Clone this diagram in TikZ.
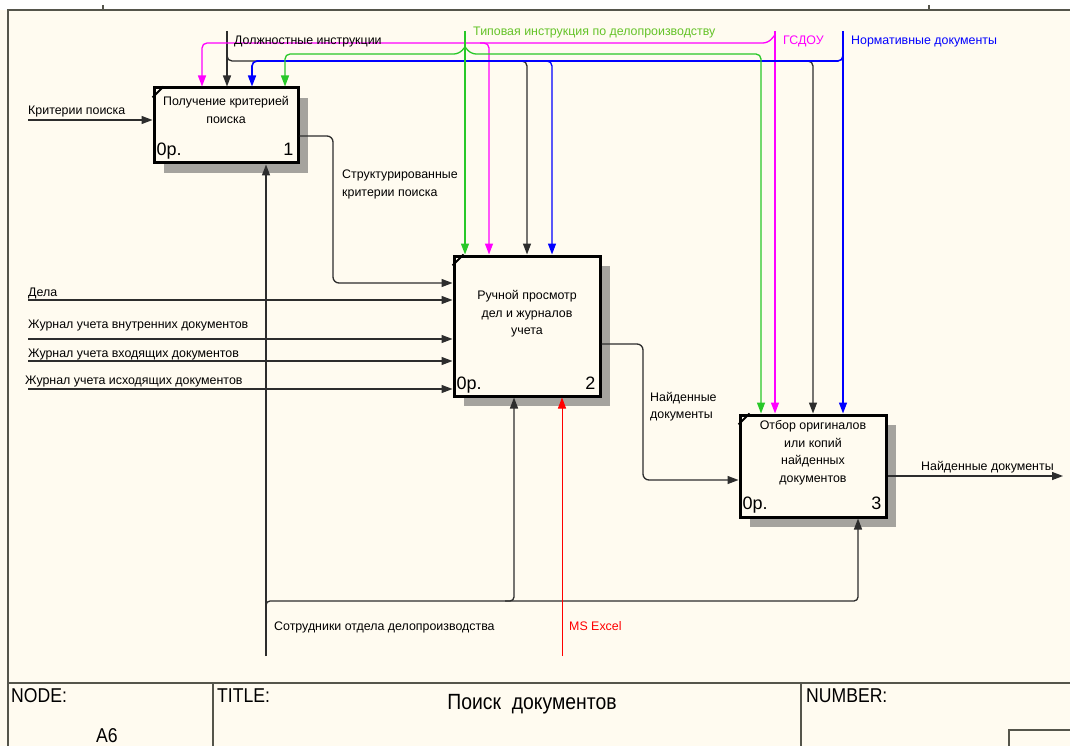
\documentclass[tikz,border=0pt]{standalone}
\usepackage{fontspec}
\setmainfont{Liberation Sans}
\newfontfamily\narrowfont[FakeStretch=0.88]{Liberation Sans}
\usetikzlibrary{positioning,arrows.meta,shadows}
\definecolor{paper}{RGB}{255,251,240}
\definecolor{cline}{RGB}{45,45,45}
\definecolor{cframe}{RGB}{85,85,75}
\definecolor{cshade}{RGB}{165,163,158}
\definecolor{cgreen}{RGB}{40,200,40}
\definecolor{cgreentext}{RGB}{100,195,40}
\definecolor{cmag}{RGB}{255,0,255}
\definecolor{cblue}{RGB}{0,0,255}
\definecolor{cred}{RGB}{255,0,0}

\begin{document}
\begin{tikzpicture}[x=1pt,y=-1pt]
\tikzstyle{every node}+=[inner sep=0pt,font=\fontsize{12.4}{17.5}\selectfont]
\tikzstyle{func}=[draw=black,line width=3pt,fill=paper,minimum width=146pt,drop shadow={shadow xshift=10pt,shadow yshift=-10pt,opacity=1,fill=cshade}]
\tikzstyle{arr}=[cline,line width=1.3pt,-{Triangle[length=11pt,width=8pt]}]
\tikzstyle{carr}=[arr,line width=1.3pt]
\tikzstyle{frame}=[cframe,line width=1.5pt]
\tikzstyle{lbl}=[anchor=base west]
\tikzstyle{num}=[anchor=base west,font=\fontsize{18}{18}\selectfont]
\tikzstyle{ftext}=[anchor=base west,font=\narrowfont\fontsize{20}{22}\selectfont]
\useasboundingbox (0,0) rectangle (1070,746);
\fill[white] (0,0) rectangle (1070,10);
\fill[paper] (0,10) rectangle (1070,746);
\draw[frame] (8,750) -- (8,10) -- (1075,10);
\draw[frame] (103,5) -- (103,10);
\draw[frame] (929,5) -- (929,10);
\draw[frame] (8,683) -- (1075,683);
\draw[frame] (213,683) -- (213,750);
\draw[frame] (801,683) -- (801,750);
\draw[frame] (1009,750) -- (1009,730) -- (1075,730);

\node[func,minimum width=144pt,minimum height=75pt] (b1) at (226,125.5) {};
\node[func,minimum height=140pt] (b2) at (527,326) {};
\node[func,minimum height=102pt] (b3) at (813,466) {};
\draw[line width=2pt] ([yshift=-11pt]b1.north west) -- ([xshift=11pt]b1.north west);
\draw[line width=2pt] ([yshift=-11pt]b2.north west) -- ([xshift=11pt]b2.north west);
\draw[line width=2pt] ([yshift=-11pt]b3.north west) -- ([xshift=11pt]b3.north west);
\node[below=10pt of b1.north,align=center] (b1t) {Получение критерией\\поиска};
\node[below=36pt of b2.north,align=center] (b2t) {Ручной просмотр\\дел и журналов\\учета};
\node[below=7pt of b3.north,align=center] (b3t) {Отбор оригиналов\\или копий\\найденных\\документов};
\node[num] (b1o) at ([shift={(4,-9)}]b1.south west) {0р.};
\node[num,anchor=base east] (b1n) at ([shift={(-6,-9)}]b1.south east) {1};
\node[num] (b2o) at ([shift={(4,-8)}]b2.south west) {0р.};
\node[num,anchor=base east] (b2n) at ([shift={(-6,-8)}]b2.south east) {2};
\node[num] (b3o) at ([shift={(4,-9)}]b3.south west) {0р.};
\node[num,anchor=base east] (b3n) at ([shift={(-6,-9)}]b3.south east) {3};

\coordinate (dolzh) at (227,31);
\coordinate (tipov) at (465,31);
\coordinate (tipj) at (465,47);
\coordinate (gsdou) at (775,31);
\coordinate (norm) at (843,31);
\draw[arr] (dolzh) -- (dolzh |- b1.north);
\draw[arr,rounded corners=5pt] (227,50) -- (227,61) -- (813,61) -- (813,0 |- b3.north);
\draw[arr,rounded corners=5pt] (515,61) -- (527,61) -- (527,0 |- b2.north);
\draw[carr,cmag] (gsdou) -- (gsdou |- b3.north);
\draw[carr,cmag,rounded corners=5pt] (775,35) -- (768,43) -- (202,43) -- (202,0 |- b1.north);
\draw[carr,cmag,rounded corners=5pt] (480,43) -- (489,43) -- (489,0 |- b2.north);
\draw[carr,cblue] (norm) -- (norm |- b3.north);
\draw[carr,cblue,line width=1.6pt,rounded corners=5pt] (843,52) -- (843,61) -- (252,61) -- (252,0 |- b1.north);
\draw[carr,cblue,rounded corners=5pt] (540,61) -- (552,61) -- (552,0 |- b2.north);
\draw[carr,cgreen] (tipov) -- (tipov |- b2.north);
\draw[carr,cgreen,rounded corners=5pt] (tipj) -- (459,54) -- (285,54) -- (285,0 |- b1.north);
\draw[carr,cgreen,rounded corners=5pt] (tipj) -- (471,54) -- (761,54) -- (761,0 |- b3.north);

\coordinate (krit) at (28,120);
\coordinate (dela) at (28,300);
\coordinate (vnutr) at (28,339);
\coordinate (vhod) at (28,361);
\coordinate (ishod) at (28,389);
\draw[arr] (krit) -- (krit -| b1.west);
\draw[arr] (dela) -- (dela -| b2.west);
\draw[arr] (vnutr) -- (vnutr -| b2.west);
\draw[arr] (vhod) -- (vhod -| b2.west);
\draw[arr] (ishod) -- (ishod -| b2.west);
\draw[arr,rounded corners=6pt] (b1.east |- 0,136) -- (333,136) -- (333,283) -- (b2.west |- 0,283);
\draw[arr,rounded corners=6pt] (b2.east |- 0,344) -- (643,344) -- (643,480) -- (b3.west |- 0,480);
\coordinate (out) at (1063,476);
\draw[arr] (b3.east |- out) -- (out);

\coordinate (sotr) at (266,656);
\coordinate (excel) at (562,656);
\draw[arr] (sotr) -- (sotr |- b1.south);
\draw[arr,rounded corners=4pt] (266,607) -- (266,601) -- (858,601) -- (858,0 |- b3.south);
\draw[arr,rounded corners=4pt] (505,601) -- (514,601) -- (514,0 |- b2.south);
\draw[arr,cred,line width=1pt] (excel) -- (excel |- b2.south);

\node[lbl] (l1) at (28,115) {Критерии поиска};
\node[lbl] (l2) at (234,45) {Должностные инструкции};
\node[lbl,text=cgreentext] (l3) at (473,36) {Типовая инструкция по делопроизводству};
\node[lbl,text=cmag] (l4) at (783,45) {ГСДОУ};
\node[lbl,text=cblue] (l5) at (851,45) {Нормативные документы};
\node[anchor=north west,align=left] (l6) at (342,170) {Структурированные\\критерии поиска};
\node[lbl] (l7) at (28,296) {Дела};
\node[lbl] (l8) at (28,328) {Журнал учета внутренних документов};
\node[lbl] (l9) at (28,357) {Журнал учета входящих документов};
\node[lbl] (l10) at (25,384) {Журнал учета исходящих документов};
\node[anchor=north west,align=left] (l11) at (650,392) {Найденные\\документы};
\node[lbl] (l12) at (921,470) {Найденные документы};
\node[lbl] (l13) at (274,630) {Сотрудники отдела делопроизводства};
\node[lbl,text=cred] (l14) at (569,630) {MS Excel};

\node[ftext] (f1) at (11,702) {NODE:};
\node[ftext,anchor=base] (f2) at (107,742) {A6};
\node[ftext] (f3) at (217,702) {TITLE:};
\node[ftext,anchor=base,font=\narrowfont\fontsize{22}{24}\selectfont] (f4) at (532,709) {Поиск\ \ документов};
\node[ftext] (f5) at (806,702) {NUMBER:};
\end{tikzpicture}
\end{document}
